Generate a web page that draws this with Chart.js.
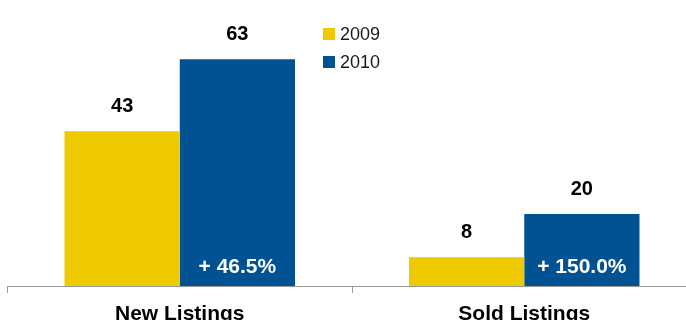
<!DOCTYPE html>
<html>
<head>
<meta charset="utf-8">
<script src="https://cdn.jsdelivr.net/npm/chart.js@4/dist/chart.umd.min.js"></script>
<style>
  html, body { margin: 0; padding: 0; background: #fff; overflow: hidden; width: 686px; height: 320px; }
  canvas { display: block; position: absolute; left: 0; top: 0; }
</style>
</head>
<body>
<canvas id="c" width="700" height="360"></canvas>
<script>
const categories = ["New Listings", "Sold Listings"];
const seriesNames = ["2009", "2010"];
const values2009 = [43, 8];
const values2010 = [63, 20];
const changeLabels = ["+ 46.5%", "+ 150.0%"];

const YELLOW = "#EFCA00";
const BLUE = "#005293";
const FONT = "'Liberation Sans', Arial, sans-serif";

const labelsPlugin = {
  id: "labels",
  afterDatasetsDraw(chart) {
    const ctx = chart.ctx;
    ctx.save();
    chart.data.datasets.forEach((ds, di) => {
      const meta = chart.getDatasetMeta(di);
      meta.data.forEach((bar, i) => {
        ctx.fillStyle = "#000";
        ctx.font = "bold 20px " + FONT;
        ctx.textAlign = "center";
        ctx.textBaseline = "middle";
        ctx.fillText(String(ds.data[i]), bar.x, bar.y - 25);
        if (di === 1) {
          ctx.fillStyle = "#fff";
          ctx.font = "bold 21px " + FONT;
          ctx.fillText(changeLabels[i], bar.x, bar.base - 19);
        }
      });
    });
    // legend
    ctx.font = "18px " + FONT;
    ctx.textAlign = "left";
    ctx.textBaseline = "middle";
    chart.data.datasets.forEach((ds, di) => {
      const cy = 34 + di * 28;
      ctx.fillStyle = ds.backgroundColor;
      ctx.fillRect(323, cy - 6, 12, 12);
      ctx.fillStyle = "#1a1a1a";
      ctx.fillText(ds.label, 340, cy + 1);
    });
    ctx.restore();
  }
};

new Chart(document.getElementById("c"), {
  type: "bar",
  data: {
    labels: categories,
    datasets: [
      { label: seriesNames[0], data: values2009, backgroundColor: YELLOW },
      { label: seriesNames[1], data: values2010, backgroundColor: BLUE }
    ]
  },
  options: {
    responsive: false,
    animation: false,
    events: [],
    layout: { padding: { top: 34, left: 7.5, right: 3.5, bottom: 34 } },
    plugins: { legend: { display: false }, tooltip: { enabled: false }, title: { display: false } },
    datasets: { bar: { categoryPercentage: 0.669, barPercentage: 1.0 } },
    scales: {
      y: { display: false, min: 0, max: 70 },
      x: {
        offset: true,
        afterFit(scale) { scale.height = 40; },
        border: { display: true, color: "#9a9a9a", width: 1 },
        grid: { display: true, offset: true, drawOnChartArea: false, drawTicks: true, tickLength: 7, color: "#9a9a9a", lineWidth: 1 },
        ticks: { color: "#000", padding: 9, font: { family: FONT, size: 21, weight: "bold" } }
      }
    }
  },
  plugins: [labelsPlugin]
});
</script>
</body>
</html>
